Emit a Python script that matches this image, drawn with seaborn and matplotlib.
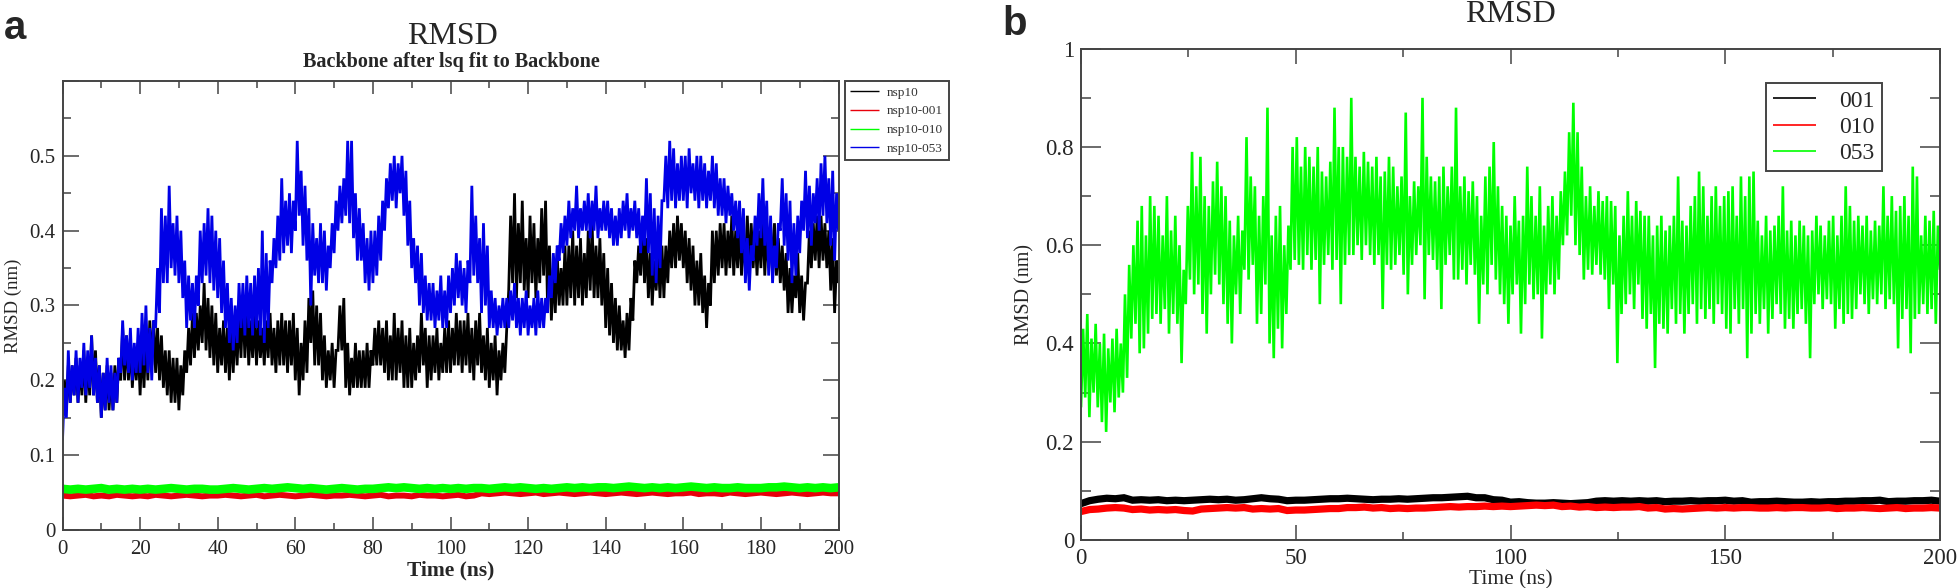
"""
RMSD of nsp10 complexes over 200 ns, two panels (a, b).
Values read off the published figure by eye, low/high alternating along the trace.
"""
import matplotlib
matplotlib.use("Agg")
import matplotlib.pyplot as plt
from matplotlib.ticker import MultipleLocator
import seaborn as sns
import pandas as pd
import numpy as np

# panel a, one value every 0.5 ns, each row is 5 ns
a_nsp10 = [
    .16,.20,.16,.22,.17,.22,.18,.23,.17,.22, .18,.24,.17,.23,.18,.26,.18,.24,.17,.22,
    .15,.21,.16,.22,.16,.21,.16,.22,.17,.23, .20,.27,.20,.26,.20,.25,.19,.24,.20,.25,
    .18,.25,.19,.26,.20,.28,.22,.28,.21,.27, .20,.26,.19,.24,.18,.24,.17,.23,.17,.23,
    .16,.22,.18,.24,.21,.27,.22,.29,.23,.29, .24,.30,.25,.33,.24,.31,.23,.30,.22,.29,
    .21,.27,.22,.28,.21,.27,.20,.27,.21,.28, .22,.29,.23,.31,.23,.30,.22,.28,.23,.29,
    .22,.28,.23,.27,.22,.28,.23,.29,.22,.27, .21,.28,.22,.29,.22,.28,.21,.28,.22,.29,
    .20,.27,.18,.25,.20,.28,.21,.31,.25,.32, .22,.30,.22,.29,.20,.26,.19,.24,.20,.25,
    .19,.24,.24,.30,.24,.31,.19,.25,.18,.23, .19,.25,.19,.24,.19,.24,.19,.25,.19,.24,
    .22,.27,.22,.28,.22,.27,.21,.28,.20,.26, .20,.29,.20,.27,.21,.28,.19,.26,.19,.27,
    .19,.25,.20,.26,.21,.29,.22,.27,.19,.26, .20,.26,.21,.27,.20,.25,.21,.27,.21,.28,
    .21,.27,.22,.29,.22,.28,.21,.28,.22,.29, .21,.27,.20,.28,.22,.29,.21,.26,.20,.27,
    .19,.25,.20,.26,.18,.24,.20,.25,.21,.27, .32,.42,.33,.45,.31,.41,.33,.44,.32,.39,
    .31,.42,.33,.41,.31,.39,.33,.43,.34,.44, .30,.38,.28,.35,.29,.37,.30,.35,.30,.38,
    .30,.38,.31,.40,.30,.38,.31,.39,.30,.37, .31,.40,.32,.41,.31,.38,.31,.39,.30,.37,
    .27,.35,.26,.33,.25,.31,.24,.30,.24,.28, .23,.29,.24,.31,.28,.36,.33,.38,.34,.41,
    .33,.39,.31,.37,.30,.36,.32,.37,.31,.38, .31,.38,.33,.40,.35,.41,.35,.42,.36,.41,
    .35,.40,.33,.39,.32,.38,.30,.36,.30,.37, .29,.34,.27,.33,.30,.40,.33,.40,.34,.41,
    .35,.41,.34,.40,.35,.42,.34,.40,.35,.41, .34,.39,.35,.42,.34,.41,.35,.40,.34,.40,
    .35,.42,.34,.40,.35,.41,.34,.41,.34,.39, .33,.38,.32,.37,.29,.35,.29,.34,.31,.37,
    .29,.34,.28,.33,.33,.40,.35,.41,.36,.42, .35,.42,.36,.41,.35,.40,.32,.39,.29,.36,
    .33,
]
a_nsp10_053 = [
    .12,.19,.15,.24,.17,.22,.18,.24,.17,.23, .19,.25,.18,.24,.19,.26,.18,.23,.17,.22,
    .15,.21,.16,.23,.17,.22,.16,.21,.17,.23, .21,.28,.22,.26,.21,.27,.20,.25,.21,.27,
    .21,.29,.22,.30,.21,.27,.20,.28,.27,.35, .29,.43,.33,.42,.33,.46,.35,.41,.34,.42,
    .33,.40,.31,.36,.27,.34,.28,.33,.27,.34, .30,.40,.33,.41,.34,.43,.33,.42,.32,.40,
    .31,.39,.29,.36,.27,.33,.25,.31,.24,.30, .25,.33,.27,.33,.26,.34,.27,.33,.26,.34,
    .27,.35,.26,.40,.25,.37,.27,.36,.33,.39, .35,.42,.36,.47,.37,.44,.38,.45,.37,.44,
    .40,.52,.42,.48,.38,.46,.36,.43,.30,.41, .34,.39,.33,.41,.33,.40,.32,.38,.35,.41,
    .37,.44,.40,.46,.41,.47,.42,.52,.41,.52, .39,.45,.36,.43,.36,.41,.33,.39,.32,.40,
    .33,.40,.34,.42,.36,.44,.40,.47,.43,.49, .44,.50,.43,.49,.45,.50,.42,.48,.38,.44,
    .35,.39,.33,.38,.30,.37,.29,.34,.28,.33, .28,.33,.27,.32,.28,.34,.27,.32,.27,.34,
    .29,.35,.30,.37,.31,.36,.30,.35,.29,.36, .33,.46,.34,.42,.33,.39,.29,.41,.30,.38,
    .27,.32,.27,.31,.26,.30,.27,.31,.27,.31, .27,.32,.28,.33,.27,.31,.26,.31,.27,.32,
    .26,.30,.27,.31,.26,.32,.27,.31,.27,.31, .29,.34,.31,.37,.33,.38,.36,.41,.37,.42,
    .38,.44,.39,.43,.40,.46,.39,.43,.40,.44, .40,.45,.39,.44,.40,.46,.39,.43,.40,.44,
    .40,.44,.39,.43,.38,.42,.38,.43,.39,.44, .40,.45,.39,.43,.40,.44,.39,.43,.37,.42,
    .38,.47,.37,.45,.34,.43,.33,.42,.35,.44, .44,.50,.43,.52,.44,.51,.43,.49,.44,.50,
    .44,.50,.43,.51,.45,.49,.44,.50,.43,.50, .44,.49,.43,.48,.44,.50,.43,.49,.42,.47,
    .42,.47,.41,.46,.42,.45,.40,.44,.39,.44, .37,.43,.33,.39,.32,.38,.36,.42,.38,.45,
    .39,.47,.38,.44,.34,.42,.33,.38,.35,.41, .40,.47,.38,.45,.36,.44,.33,.41,.34,.42,
    .37,.44,.40,.48,.39,.46,.38,.45,.41,.47, .40,.49,.42,.50,.41,.47,.38,.48,.36,.45,
    .40,
]
# the flat traces, one value every 2 ns, each row is 20 ns
a_nsp10_001 = [
    .046,.045,.046,.047,.045,.046,.045,.047,.046,.045,
    .046,.045,.047,.046,.045,.046,.047,.046,.045,.046,
    .046,.047,.046,.045,.046,.047,.045,.046,.047,.046,
    .045,.046,.047,.046,.045,.046,.046,.047,.046,.045,
    .046,.047,.045,.046,.046,.045,.047,.046,.046,.045,
    .046,.047,.045,.046,.049,.048,.049,.050,.049,.048,
    .049,.050,.048,.049,.050,.049,.048,.049,.050,.049,
    .048,.049,.050,.049,.048,.049,.050,.049,.048,.049,
    .049,.050,.048,.049,.049,.048,.050,.049,.048,.049,
    .050,.049,.048,.049,.050,.049,.048,.049,.050,.049,
    .049,
]
a_nsp10_010 = [
    .055,.054,.055,.054,.055,.056,.054,.055,.054,.055,
    .054,.055,.054,.055,.056,.055,.054,.055,.055,.054,
    .054,.055,.056,.055,.054,.055,.056,.055,.056,.057,
    .056,.055,.056,.055,.054,.055,.056,.055,.054,.055,
    .055,.056,.057,.056,.057,.056,.055,.056,.055,.056,
    .055,.056,.055,.056,.056,.055,.056,.057,.056,.057,
    .056,.055,.056,.055,.056,.057,.056,.057,.056,.057,
    .057,.056,.057,.058,.057,.056,.057,.056,.057,.056,
    .057,.058,.057,.056,.057,.056,.056,.057,.056,.056,
    .056,.057,.057,.058,.057,.056,.057,.056,.057,.056,
    .057,
]

# panel b
b_001 = [
    .074,.080,.083,.085,.084,.086,.081,.082,.081,.082,
    .080,.081,.080,.081,.082,.083,.082,.083,.081,.082,
    .084,.086,.084,.083,.080,.081,.081,.082,.083,.084,
    .084,.085,.084,.083,.082,.083,.083,.084,.083,.084,
    .085,.086,.086,.087,.088,.089,.086,.086,.082,.081,
    .077,.078,.076,.075,.075,.076,.075,.074,.075,.076,
    .079,.080,.079,.080,.079,.080,.079,.080,.078,.079,
    .079,.080,.079,.080,.080,.081,.079,.080,.077,.078,
    .078,.079,.078,.077,.077,.078,.077,.078,.078,.079,
    .079,.080,.080,.081,.078,.079,.079,.080,.080,.081,
    .079,
]
b_010 = [
    .058,.062,.063,.065,.066,.065,.062,.063,.061,.062,
    .061,.062,.060,.059,.063,.064,.065,.066,.065,.066,
    .063,.064,.063,.064,.060,.061,.061,.062,.063,.064,
    .064,.066,.066,.067,.065,.066,.064,.065,.064,.065,
    .065,.066,.067,.068,.067,.068,.068,.069,.068,.069,
    .068,.069,.070,.071,.070,.071,.068,.069,.067,.068,
    .066,.067,.066,.067,.067,.068,.065,.066,.063,.064,
    .063,.064,.065,.066,.065,.066,.065,.066,.066,.065,
    .065,.066,.065,.066,.066,.065,.065,.066,.064,.065,
    .065,.066,.065,.064,.065,.066,.064,.065,.065,.066,
    .065,
]
b_053 = [
    .27,.43,.29,.46,.25,.41,.30,.44,.27,.40, .24,.42,.22,.39,.28,.41,.26,.43,.29,.40,
    .30,.50,.33,.56,.41,.60,.44,.65,.38,.68, .39,.62,.42,.70,.45,.68,.46,.66,.44,.62,
    .47,.70,.42,.63,.46,.66,.44,.60,.36,.55, .48,.68,.53,.79,.50,.72,.52,.78,.46,.70,
    .42,.68,.50,.73,.54,.77,.52,.72,.48,.70, .44,.65,.40,.62,.50,.66,.46,.63,.55,.82,
    .53,.74,.56,.72,.44,.66,.46,.70,.52,.88, .40,.62,.37,.66,.43,.68,.39,.60,.46,.64,
    .55,.80,.57,.82,.56,.76,.55,.80,.58,.78, .55,.76,.57,.80,.48,.75,.56,.74,.58,.77,
    .55,.88,.57,.80,.48,.80,.56,.78,.58,.90, .58,.78,.60,.76,.57,.79,.60,.77,.58,.76,
    .56,.78,.58,.74,.47,.75,.56,.78,.55,.76, .56,.72,.58,.74,.54,.87,.50,.70,.56,.73,
    .58,.72,.60,.90,.49,.78,.58,.74,.57,.73, .55,.74,.47,.76,.56,.72,.58,.76,.53,.88,
    .53,.72,.55,.74,.52,.71,.56,.73,.54,.70, .44,.66,.52,.74,.50,.76,.56,.81,.53,.72,
    .50,.68,.48,.66,.44,.64,.50,.70,.52,.65, .42,.66,.48,.76,.52,.70,.49,.66,.50,.72,
    .41,.64,.50,.68,.52,.70,.50,.66,.53,.71, .60,.75,.62,.83,.66,.89,.60,.83,.58,.76,
    .53,.70,.55,.72,.54,.68,.56,.71,.54,.69, .53,.70,.47,.69,.52,.68,.36,.62,.46,.66,
    .48,.71,.50,.66,.47,.69,.52,.67,.45,.66, .43,.66,.46,.62,.35,.64,.44,.66,.43,.63,
    .42,.64,.47,.66,.44,.74,.46,.65,.42,.64, .46,.68,.48,.70,.44,.75,.47,.72,.45,.66,
    .47,.70,.44,.72,.48,.68,.46,.70,.43,.71, .42,.72,.47,.66,.44,.74,.47,.70,.37,.74,
    .42,.75,.46,.65,.44,.62,.47,.66,.42,.63, .45,.64,.48,.66,.46,.72,.43,.63,.45,.65,
    .43,.62,.46,.65,.47,.64,.44,.62,.37,.63, .48,.66,.50,.64,.47,.62,.49,.65,.48,.66,
    .43,.62,.47,.66,.44,.72,.46,.68,.45,.65, .47,.66,.50,.64,.48,.66,.46,.63,.49,.65,
    .48,.64,.50,.72,.47,.66,.49,.70,.48,.67, .39,.68,.45,.70,.47,.66,.38,.76,.45,.74,
    .46,.62,.48,.66,.46,.65,.47,.67,.44,.64,
    .55,
]

a_names = ["nsp10", "nsp10-001", "nsp10-010", "nsp10-053"]
a_series = [a_nsp10, a_nsp10_001, a_nsp10_010, a_nsp10_053]
a_colors = ["black", "#e8000b", "#00ff00", "#0000e6"]
a_widths = [2.0, 4.3, 6.2, 2.0]

b_names = ["001", "010", "053"]
b_series = [b_001, b_010, b_053]
b_colors = ["black", "#ff0000", "#00ff00"]
b_widths = [5.2, 5.2, 1.9]

W, H = 1960, 588
SPINE = "#444444"


def box(left, top, right, bottom):
    return [left / W, 1 - bottom / H, (right - left) / W, (bottom - top) / H]


def draw_traces(ax, names, series, colors, widths):
    for name, vals, col, lw in zip(names, series, colors, widths):
        df = pd.DataFrame({"time": np.linspace(0, 200, len(vals)), "rmsd": vals})
        sns.lineplot(data=df, x="time", y="rmsd", color=col, linewidth=lw, label=name,
                     estimator=None, sort=False, ax=ax, solid_joinstyle="miter",
                     solid_capstyle="butt")


def style_axes(ax, ylim, ytop_label, xmaj, xmin, ymaj, ymin, ticksize, ticklen, xpad):
    ax.set_xlim(0, 200)
    ax.set_ylim(*ylim)
    ax.xaxis.set_major_locator(MultipleLocator(xmaj))
    ax.xaxis.set_minor_locator(MultipleLocator(xmin))
    ax.yaxis.set_major_locator(MultipleLocator(ymaj))
    ax.yaxis.set_minor_locator(MultipleLocator(ymin))
    ax.xaxis.set_major_formatter(lambda v, p: f"{v:g}")
    ax.yaxis.set_major_formatter(lambda v, p: f"{v:g}" if v <= ytop_label else "")
    ax.tick_params(which="both", direction="in", top=True, right=True, color=SPINE, width=1.1,
                   bottom=True, left=True)
    ax.tick_params(axis="x", which="major", length=ticklen[0], labelsize=ticksize, pad=xpad)
    ax.tick_params(axis="x", which="minor", length=ticklen[0] / 2)
    ax.tick_params(axis="y", which="major", length=ticklen[1], labelsize=ticksize, pad=5)
    ax.tick_params(axis="y", which="minor", length=ticklen[1] / 2)
    for s in ax.spines.values():
        s.set_visible(True)
        s.set_color(SPINE)
        s.set_linewidth(1.4)


sns.set_theme(style="white")
plt.rcParams["font.family"] = ["Liberation Serif", "DejaVu Serif"]

fig = plt.figure(figsize=(W / 100, H / 100), dpi=100)

# panel a
ax_a = fig.add_axes(box(62.5, 81, 838.5, 530))
draw_traces(ax_a, a_names, a_series, a_colors, a_widths)
style_axes(ax_a, (0, 0.6), 0.55, 20, 10, 0.1, 0.05, 15, (9.5, 11.5), 7)
ax_a.set_xlabel("Time (ns)", fontsize=15.5, fontweight="bold", labelpad=1)
ax_a.set_ylabel("RMSD (nm)", fontsize=13.5, labelpad=5)
leg_a = ax_a.legend(loc="upper left", bbox_to_anchor=(845 / W, 1 - 81 / H), bbox_transform=fig.transFigure,
                    borderaxespad=0, fontsize=9.5, fancybox=False, framealpha=1, edgecolor=SPINE,
                    labelspacing=0.5, handlelength=2.2, handletextpad=0.6, borderpad=0.4)
leg_a.get_frame().set_linewidth(1.4)
for line in leg_a.get_lines():
    line.set_linewidth(1.0)
for t in leg_a.get_texts():
    t.set_color("#333333")

# panel b
ax_b = fig.add_axes(box(1081, 48.7, 1940, 540))
draw_traces(ax_b, b_names, b_series, b_colors, b_widths)
style_axes(ax_b, (0, 1), 1.01, 50, 25, 0.2, 0.1, 16.5, (11, 14.5), 6)
ax_b.set_xlabel("Time (ns)", fontsize=15.5, labelpad=0.5)
ax_b.set_ylabel("RMSD (nm)", fontsize=14.5, labelpad=8)
leg_b = ax_b.legend(loc="upper left", bbox_to_anchor=(1766 / W, 1 - 83 / H), bbox_transform=fig.transFigure,
                    borderaxespad=0, fontsize=17, fancybox=False, framealpha=1, edgecolor=SPINE,
                    labelspacing=0.2, handlelength=1.8, handletextpad=1.0, borderpad=0.3)
leg_b.get_frame().set_linewidth(1.4)
for line in leg_b.get_lines():
    line.set_linewidth(1.2)

# titles and panel letters
fig.text(452 / W, 1 - 37 / H, "RMSD", ha="center", va="center", fontsize=23)
fig.text(451 / W, 1 - 62 / H, "Backbone after lsq fit to Backbone", ha="center", va="center",
         fontsize=14.5, fontweight="bold")
fig.text(1510 / W, 1 - 14 / H, "RMSD", ha="center", va="center", fontsize=23)
fig.text(4 / W, 1 - 28 / H, "a", ha="left", va="center", fontsize=29, fontweight="bold",
         family=["Liberation Sans", "DejaVu Sans"])
fig.text(1002 / W, 1 - 24 / H, "b", ha="left", va="center", fontsize=29, fontweight="bold",
         family=["Liberation Sans", "DejaVu Sans"])

fig.savefig("out.png", dpi=100, facecolor="white")
